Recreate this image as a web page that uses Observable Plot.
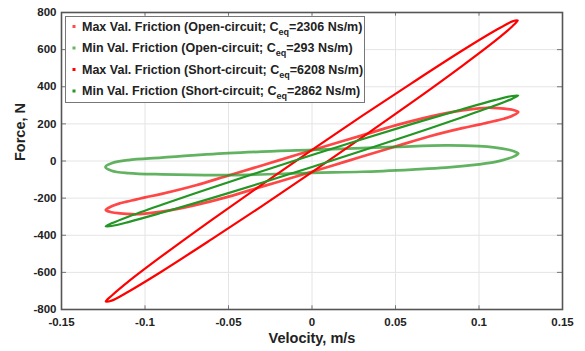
<!DOCTYPE html>
<html>
<head>
<meta charset="utf-8">
<script src="https://cdn.jsdelivr.net/npm/d3@7"></script>
<script src="https://cdn.jsdelivr.net/npm/@observablehq/plot@0.6"></script>
<style>
  body { margin: 0; background: #fff; }
  #chart { width: 585px; height: 351px; }
  #chart svg { font-family: "Liberation Sans", Arial, sans-serif; }
</style>
</head>
<body>
<div id="chart"></div>
<script>
// Axis ticks
const xTicks = [-0.15, -0.1, -0.05, 0, 0.05, 0.1, 0.15];
const yTicks = [-800, -600, -400, -200, 0, 200, 400, 600, 800];

// Legend entries
const legendLabels = [
  "Max Val. Friction (Open-circuit; C",
  "Min Val. Friction (Open-circuit; C",
  "Max Val. Friction (Short-circuit; C",
  "Min Val. Friction (Short-circuit; C"
];
const ceqValues = [2306, 293, 6208, 2862];

// Force–velocity loops, each traced once around: velocity (m/s) and force (N)
const maxOpenV = [-0.1235, -0.12, -0.115, -0.111, -0.105, -0.1, -0.09, -0.07, -0.05, -0.03, -0.01, 0.01, 0.03, 0.05, 0.07, 0.09, 0.1, 0.105, 0.111, 0.115, 0.12,
                  0.1235, 0.12, 0.115, 0.111, 0.105, 0.1, 0.09, 0.07, 0.05, 0.03, 0.01, -0.01, -0.03, -0.05, -0.07, -0.09, -0.1, -0.105, -0.111, -0.115, -0.12];
const maxOpenF = [-264, -244, -228, -219, -207, -196, -177, -132, -78, -24, 31, 85, 138, 192, 238, 273, 284, 287, 285, 282, 276,
                  264, 244, 228, 219, 207, 196, 177, 132, 78, 24, -31, -85, -138, -192, -238, -273, -284, -287, -285, -282, -276];

const minOpenV = [-0.1237, -0.12, -0.11, -0.09, -0.05, 0, 0.05, 0.08, 0.1, 0.11, 0.117, 0.121,
                  0.1235, 0.121, 0.117, 0.11, 0.1, 0.08, 0.06, 0.03, 0, -0.05, -0.09, -0.11, -0.12];
const minOpenF = [-32, -12, 5, 18, 42, 60, 76, 84, 80, 72, 62, 52,
                  40, 25, 12, -5, -18, -36, -46, -58, -64, -76, -72, -65, -52];

const maxShortV = [-0.1235, -0.12, -0.11, -0.09, -0.06, -0.03, 0, 0.03, 0.06, 0.09, 0.11, 0.12,
                   0.1232, 0.12, 0.11, 0.09, 0.06, 0.03, 0, -0.03, -0.06, -0.09, -0.11, -0.12];
const maxShortF = [-757, -726, -650, -513, -317, -127, 60, 243, 421, 595, 704, 752,
                   757, 726, 650, 513, 317, 127, -60, -243, -421, -595, -704, -752];

const minShortV = [-0.1235, -0.12, -0.11, -0.09, -0.06, -0.03, 0, 0.03, 0.06, 0.09, 0.11, 0.12,
                   0.1235, 0.12, 0.11, 0.09, 0.06, 0.03, 0, -0.03, -0.06, -0.09, -0.11, -0.12];
const minShortF = [-352, -336, -300, -236, -144, -55, 32, 117, 200, 279, 329, 350,
                   353, 336, 300, 236, 144, 55, -32, -117, -200, -279, -329, -350];

const RED = "#ff0000";
const GREEN = "#249624";

const toRows = (vs, fs) => vs.map((v, i) => ({v, F: fs[i]}));
const loops = [
  {data: toRows(maxOpenV, maxOpenF), stroke: RED, opacity: 0.72, width: 2.7},
  {data: toRows(minOpenV, minOpenF), stroke: GREEN, opacity: 0.72, width: 2.7},
  {data: toRows(maxShortV, maxShortF), stroke: RED, opacity: 1, width: 2.2},
  {data: toRows(minShortV, minShortF), stroke: GREEN, opacity: 1, width: 2.2}
];

const fmt = d => String(+d.toFixed(2));

const plot = Plot.plot({
  width: 585,
  height: 351,
  marginLeft: 61,
  marginRight: 23,
  marginTop: 12,
  marginBottom: 42,
  x: {domain: [-0.15, 0.15]},
  y: {domain: [-800, 800]},
  style: {fontFamily: "'Liberation Sans', Arial, sans-serif", fontSize: "11.5px", fontWeight: "bold", color: "#222", background: "#fff"},
  marks: [
    Plot.gridX(xTicks, {stroke: "#e4e4e4", strokeOpacity: 1}),
    Plot.gridY(yTicks, {stroke: "#e4e4e4", strokeOpacity: 1}),
    ...loops.map(l => Plot.line(l.data, {
      x: "v", y: "F", curve: "catmull-rom-closed",
      stroke: l.stroke, strokeOpacity: l.opacity, strokeWidth: l.width
    })),
    // inward tick marks on all four sides
    Plot.ruleX(xTicks, {y1: -800, y2: -780, stroke: "#777"}),
    Plot.ruleX(xTicks, {y1: 800, y2: 780, stroke: "#777"}),
    Plot.ruleY(yTicks, {x1: -0.15, x2: -0.147, stroke: "#777"}),
    Plot.ruleY(yTicks, {x1: 0.15, x2: 0.147, stroke: "#777"}),
    Plot.frame({stroke: "#555", strokeWidth: 1.6}),
    Plot.axisX(xTicks, {tickSize: 0, tickPadding: 8, tickFormat: fmt, label: null}),
    Plot.axisY(yTicks, {tickSize: 0, tickPadding: 5, tickFormat: fmt, label: null}),
    Plot.text(["Velocity, m/s"], {frameAnchor: "bottom", dy: 33, fontSize: 14.5, fontWeight: "bold", fill: "#222"}),
    Plot.text(["Force, N"], {frameAnchor: "left", dx: -41, rotate: -90, fontSize: 14.5, fontWeight: "bold", fill: "#222"})
  ]
});

// Legend box in the upper-left corner of the frame
const svg = d3.select(plot);
const legend = svg.append("g")
  .attr("font-size", 12.5).attr("font-weight", "bold").attr("fill", "#222")
  .attr("text-anchor", "start");
legend.append("rect")
  .attr("x", 65.5).attr("y", 16.5).attr("width", 299).attr("height", 86)
  .attr("fill", "#fff").attr("stroke", "#777").attr("stroke-width", 1);
const legendColors = [RED, GREEN, RED, GREEN];
const legendOpacity = [0.7, 0.7, 1, 1];
legendLabels.forEach((label, i) => {
  const cy = 26.5 + i * 21.5;
  legend.append("rect")
    .attr("x", 72.5).attr("y", cy - 1.5).attr("width", 3).attr("height", 3)
    .attr("fill", legendColors[i]).attr("fill-opacity", legendOpacity[i]);
  const t = legend.append("text").attr("x", 82).attr("y", cy + 4.3);
  t.append("tspan").text(label);
  t.append("tspan").attr("font-size", 9).attr("dy", 4).text("eq");
  t.append("tspan").attr("dy", -4).text(`=${ceqValues[i]} Ns/m)`);
});

document.getElementById("chart").appendChild(plot);
</script>
</body>
</html>
